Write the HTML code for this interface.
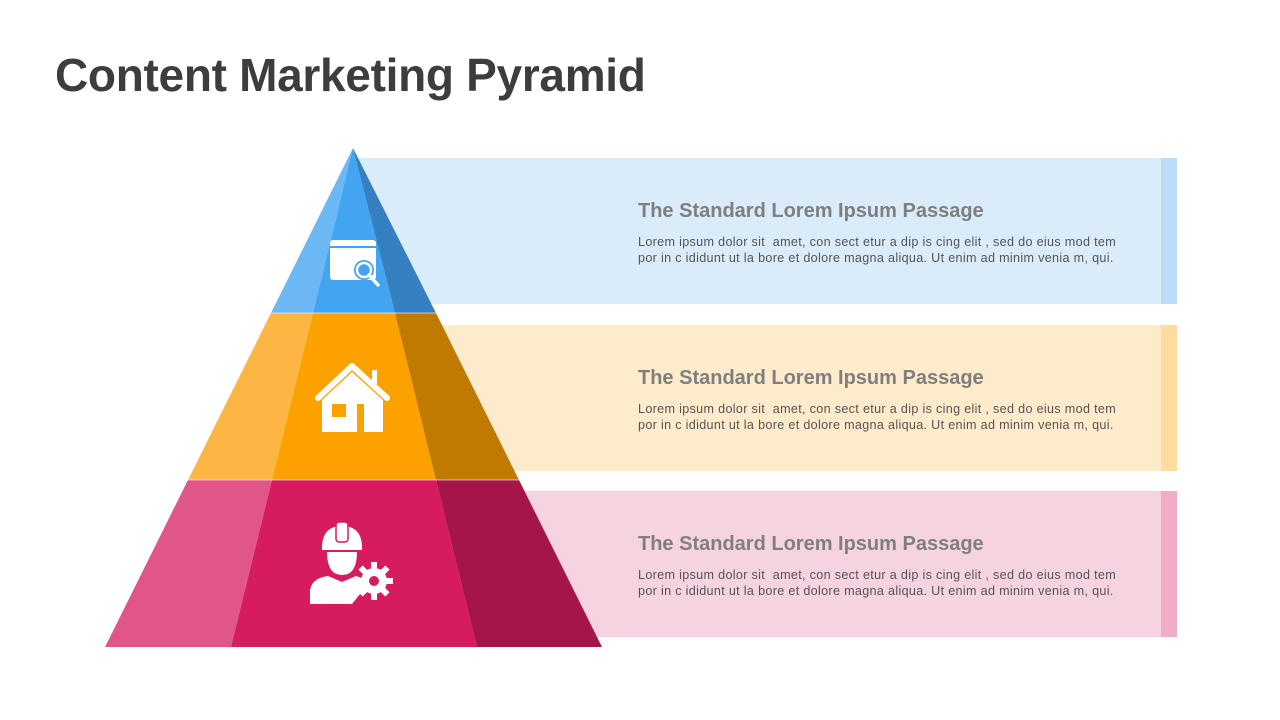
<!DOCTYPE html>
<html><head><meta charset="utf-8"><style>
body{margin:0;width:1280px;height:720px;background:#fff;position:relative;overflow:hidden;font-family:"Liberation Sans",sans-serif}
h1{position:absolute;left:55px;top:48px;margin:0;font-size:46px;font-weight:bold;color:#3d3d3d;letter-spacing:-0.3px}
.band{position:absolute;left:355px;width:822px;height:146px}
.strip{position:absolute;right:0;top:0;width:16px;height:100%}
.t{position:absolute;left:283px;top:42px;font-size:20px;font-weight:bold;color:#7f7f7f;white-space:nowrap}
.b{position:absolute;left:283px;top:76px;font-size:12.6px;letter-spacing:0.32px;line-height:16px;color:#555;white-space:nowrap}
svg{position:absolute;left:0;top:0}
</style></head><body>
<h1>Content Marketing Pyramid</h1>
<div class="band" style="top:158px;background:#daecfa"><div class="strip" style="background:#bcdcf8"></div><div class="t">The Standard Lorem Ipsum Passage</div><div class="b">Lorem ipsum dolor sit &nbsp;amet, con sect etur a dip is cing elit , sed do eius mod tem<br>por in c ididunt ut la bore et dolore magna aliqua. Ut enim ad minim venia m, qui.</div></div>
<div class="band" style="top:325px;background:#feebcc"><div class="strip" style="background:#fedca0"></div><div class="t">The Standard Lorem Ipsum Passage</div><div class="b">Lorem ipsum dolor sit &nbsp;amet, con sect etur a dip is cing elit , sed do eius mod tem<br>por in c ididunt ut la bore et dolore magna aliqua. Ut enim ad minim venia m, qui.</div></div>
<div class="band" style="top:491px;background:#f6d3e0"><div class="strip" style="background:#f1adc7"></div><div class="t">The Standard Lorem Ipsum Passage</div><div class="b">Lorem ipsum dolor sit &nbsp;amet, con sect etur a dip is cing elit , sed do eius mod tem<br>por in c ididunt ut la bore et dolore magna aliqua. Ut enim ad minim venia m, qui.</div></div>
<svg width="1280" height="720">
<polygon points="353,148 271,313 313,313" fill="#6cb8f5"/>
<polygon points="353,148 313,313 395,313" fill="#43a4f2"/>
<polygon points="353,148 395,313 436,313" fill="#3580c0"/>
<polygon points="271,313 188,480 272,480 313,313" fill="#fdb643"/>
<polygon points="313,313 272,480 436,480 395,313" fill="#fca200"/>
<polygon points="395,313 436,480 519,480 436,313" fill="#c07a00"/>
<polygon points="188,480 105,647 231,647 272,480" fill="#e0558a"/>
<polygon points="272,480 231,647 477,647 436,480" fill="#d61c5e"/>
<polygon points="436,480 477,647 602,647 519,480" fill="#a51549"/>
<line x1="271" y1="313" x2="436" y2="313" stroke="#fff" stroke-width="1" opacity=".6"/>
<line x1="188" y1="480" x2="519" y2="480" stroke="#fff" stroke-width="1" opacity=".6"/>
<rect x="330" y="240" width="46" height="40" rx="3" fill="#fff"/>
<rect x="330" y="246" width="46" height="2" fill="#43a4f2"/>
<circle cx="364" cy="270" r="10" fill="#43a4f2"/>
<circle cx="364" cy="270" r="7" fill="none" stroke="#fff" stroke-width="2.5"/>
<line x1="369" y1="275" x2="378" y2="285" stroke="#fff" stroke-width="3.5" stroke-linecap="round"/>
<polyline points="318,398 352,366 387,398" fill="none" stroke="#fff" stroke-width="6" stroke-linecap="round" stroke-linejoin="round"/>
<rect x="372" y="370" width="5" height="14" fill="#fff"/>
<polygon points="322,400 352,372 383,400 383,432 364,432 364,404 357,404 357,432 322,432" fill="#fff"/>
<rect x="332" y="404" width="14" height="13" fill="#fca200"/>
<path d="M322,548 Q322,526 342,526 Q362,526 362,548 Z" fill="#fff"/>
<rect x="336" y="522" width="12" height="20" rx="3" fill="#fff" stroke="#d61c5e" stroke-width="1.5"/>
<rect x="322" y="546" width="40" height="4" fill="#fff"/>
<path d="M327,552 Q327,575 342,575 Q357,575 357,552 Z" fill="#fff"/>
<path d="M310,604 L310,590 Q312,578 328,576 L342,582 L356,576 Q364,578 368,584 L352,604 Z" fill="#fff"/>
<g transform="translate(374,581)">
<circle r="13" fill="#fff"/>
<g fill="#fff"><rect x="-3" y="-19" width="6" height="38"/><rect x="-19" y="-3" width="38" height="6"/><rect x="-3" y="-19" width="6" height="38" transform="rotate(45)"/><rect x="-3" y="-19" width="6" height="38" transform="rotate(-45)"/></g>
<circle r="5" fill="#d61c5e"/>
</g>
</svg>
</body></html>
